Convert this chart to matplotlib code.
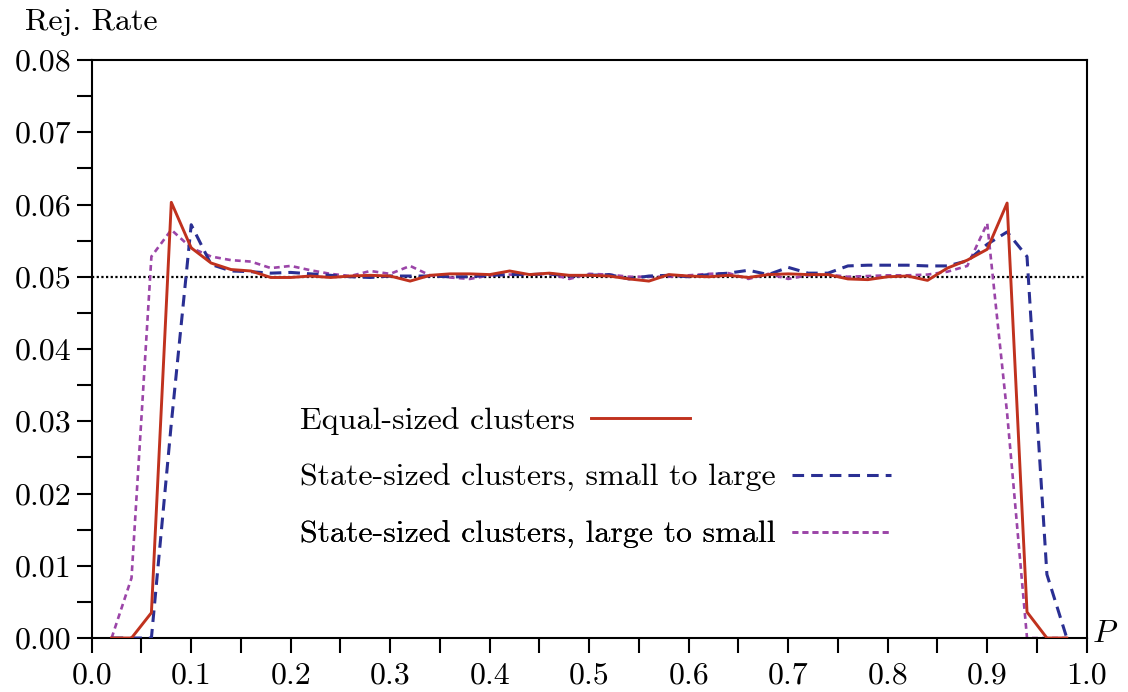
import numpy as np
import matplotlib.pyplot as plt
from matplotlib.ticker import MultipleLocator, FormatStrFormatter

plt.rcParams['font.family'] = 'cmr10'
plt.rcParams['mathtext.fontset'] = 'cm'
plt.rcParams['axes.formatter.use_mathtext'] = True

# P grid (0.02 .. 0.98)
p = [0.02, 0.04, 0.06, 0.08, 0.10, 0.12, 0.14, 0.16, 0.18, 0.20,
     0.22, 0.24, 0.26, 0.28, 0.30, 0.32, 0.34, 0.36, 0.38, 0.40,
     0.42, 0.44, 0.46, 0.48, 0.50, 0.52, 0.54, 0.56, 0.58, 0.60,
     0.62, 0.64, 0.66, 0.68, 0.70, 0.72, 0.74, 0.76, 0.78, 0.80,
     0.82, 0.84, 0.86, 0.88, 0.90, 0.92, 0.94, 0.96, 0.98]

equal = [0.0, 0.0, 0.0035, 0.0603, 0.0540, 0.0519, 0.0510, 0.0508, 0.0499, 0.0499,
         0.0501, 0.0499, 0.0501, 0.0502, 0.0501, 0.0494, 0.0502, 0.0504, 0.0504, 0.0503,
         0.0508, 0.0503, 0.0505, 0.0502, 0.0502, 0.0501, 0.0497, 0.0494, 0.0503, 0.0501,
         0.0500, 0.0502, 0.0499, 0.0503, 0.0504, 0.0503, 0.0503, 0.0497, 0.0496, 0.0500,
         0.0501, 0.0495, 0.0512, 0.0523, 0.0538, 0.0602, 0.0036, 0.0, 0.0]

small_large = [0.0, 0.0, 0.0, 0.0297, 0.0572, 0.0517, 0.0508, 0.0507, 0.0505, 0.0506,
               0.0504, 0.0502, 0.0500, 0.0499, 0.0501, 0.0501, 0.0501, 0.0500, 0.0500, 0.0502,
               0.0503, 0.0503, 0.0504, 0.0501, 0.0502, 0.0503, 0.0497, 0.0501, 0.0502, 0.0500,
               0.0503, 0.0505, 0.0509, 0.0503, 0.0513, 0.0505, 0.0505, 0.0515, 0.0516, 0.0516,
               0.0516, 0.0515, 0.0515, 0.0522, 0.0545, 0.0562, 0.0528, 0.0088, 0.0]

large_small = [0.0, 0.0083, 0.0528, 0.0565, 0.0540, 0.0528, 0.0523, 0.0521, 0.0512, 0.0515,
               0.0509, 0.0504, 0.0501, 0.0508, 0.0504, 0.0515, 0.0502, 0.0499, 0.0497, 0.0502,
               0.0503, 0.0503, 0.0504, 0.0497, 0.0504, 0.0503, 0.0500, 0.0500, 0.0500, 0.0502,
               0.0504, 0.0505, 0.0497, 0.0504, 0.0497, 0.0502, 0.0503, 0.0500, 0.0501, 0.0502,
               0.0502, 0.0503, 0.0507, 0.0515, 0.0574, 0.0311, 0.0, 0.0, 0.0]

labels = ['Equal-sized clusters',
          'State-sized clusters, small to large',
          'State-sized clusters, large to small']

fs = 23
fig = plt.figure(figsize=(11.28, 6.92), dpi=100)
ax = fig.add_axes([0.0813, 0.078, 0.8821, 0.8353])

ax.axhline(0.05, color='k', lw=1.6, ls=(0, (1, 1.1)), zorder=1)
l3, = ax.plot(p, large_small, color='#9b45a8', lw=1.9, ls=(0, (2.2, 1.6)), zorder=2)
l2, = ax.plot(p, small_large, color='#2a2f93', lw=2.2, ls=(0, (3.8, 2.3)), zorder=3)
l1, = ax.plot(p, equal, color='#c0321e', lw=2.1, zorder=4)

ax.set_xlim(0, 1)
ax.set_ylim(0, 0.08)
ax.xaxis.set_major_locator(MultipleLocator(0.1))
ax.xaxis.set_minor_locator(MultipleLocator(0.05))
ax.yaxis.set_major_locator(MultipleLocator(0.01))
ax.yaxis.set_minor_locator(MultipleLocator(0.005))
ax.xaxis.set_major_formatter(FormatStrFormatter('%.1f'))
ax.yaxis.set_major_formatter(FormatStrFormatter('%.2f'))
ax.tick_params(which='both', direction='out', length=11, width=1.5,
               top=False, right=False, labelsize=fs)
ax.tick_params(axis='x', pad=6)
for s in ax.spines.values():
    s.set_linewidth(1.5)

ax.text(-0.067, 1.066, 'Rej. Rate', fontsize=fs, ha='left', va='center',
        transform=ax.transAxes)
ax.text(1.018, 0.006, '$P$', fontsize=fs, ha='center', va='center',
        transform=ax.transAxes)

ypos = [0.375, 0.277, 0.178]
for h, lab, yy in zip([l1, l2, l3], labels, ypos):
    leg = ax.legend([h], [lab], loc='center left', bbox_to_anchor=(0.2094, yy),
                    frameon=False, markerfirst=False, fontsize=fs,
                    borderpad=0, borderaxespad=0, handlelength=3.1,
                    handletextpad=0.5)
    ax.add_artist(leg)

fig.savefig('out.png', dpi=100)
